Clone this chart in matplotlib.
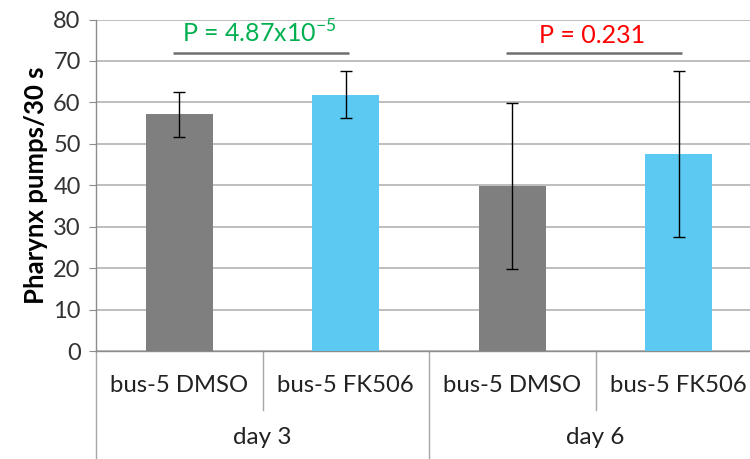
import numpy as np
import matplotlib
matplotlib.use("Agg")
import matplotlib.pyplot as plt

plt.rcParams['font.family'] = ['Lato', 'DejaVu Sans']
plt.rcParams['mathtext.fontset'] = 'custom'
plt.rcParams['mathtext.rm'] = 'Lato'

# data
conditions = ['bus-5 DMSO', 'bus-5 FK506', 'bus-5 DMSO', 'bus-5 FK506']
days = ['day 3', 'day 6']
pumps = [57.1, 61.9, 39.8, 47.6]
pumps_err = [5.5, 5.7, 20.0, 20.0]
colors = ['#7f7f7f', '#5bc9f1', '#7f7f7f', '#5bc9f1']

# p-value brackets: (left bar, right bar, label, colour)
brackets = [(0, 1, 'P = 4.87x10$^{\\mathrm{-5}}$', '#00b050'),
            (2, 3, 'P = 0.231', '#ff0000')]
bracket_y = 72

fig = plt.figure(figsize=(7.5, 4.59), dpi=100)
ax = fig.add_axes([96 / 750, 108 / 459, 666 / 750, 331.5 / 459])

x = np.arange(len(pumps))
ax.bar(x, pumps, width=0.4, color=colors, zorder=3)
ax.errorbar(x, pumps, yerr=pumps_err, fmt='none', ecolor='black',
            elinewidth=1, capsize=4.5, capthick=1, zorder=4)

ax.set_xlim(-0.5, 3.5)
ax.set_ylim(0, 80)
ax.set_yticks(np.arange(0, 81, 10))
ax.yaxis.grid(True, color='#b3b3b3', linewidth=1.2, zorder=0)
ax.set_axisbelow(True)

for s in ['top', 'right']:
    ax.spines[s].set_visible(False)
for s in ['left', 'bottom']:
    ax.spines[s].set_color('#8c8c8c')
    ax.spines[s].set_linewidth(1.0)
ax.tick_params(axis='y', length=5, color='#8c8c8c', labelsize=17,
               labelcolor='#333333', pad=6)
ax.set_xticks([])
ax.set_ylabel('Pharynx pumps/30 s', fontsize=18.5, fontweight='bold',
              labelpad=4)

# two-level category axis
trans = ax.get_xaxis_transform()
for i, name in enumerate(conditions):
    ax.text(i, -0.105, name, transform=trans, ha='center', va='center',
            fontsize=17.2, color='#222222')
for i in [0.5, 2.5]:
    ax.plot([i, i], [0, -0.178], transform=trans, color='#a6a6a6',
            lw=1, clip_on=False)
for i in [-0.5, 1.5]:
    ax.plot([i, i], [0, -0.33], transform=trans, color='#a6a6a6',
            lw=1, clip_on=False)
for j, d in enumerate(days):
    ax.text(2 * j + 0.5, -0.26, d, transform=trans, ha='center',
            va='center', fontsize=17.5, color='#222222')

for a, b, label, col in brackets:
    ax.plot([a - 0.04, b + 0.02], [bracket_y, bracket_y], color='#6e6e6e',
            lw=1.8, solid_capstyle='butt', zorder=5)
    ax.text((a + b) / 2 - 0.02, bracket_y + 1.4, label, ha='center',
            va='bottom', fontsize=18, color=col, zorder=5)

fig.savefig('out.png', dpi=100)
